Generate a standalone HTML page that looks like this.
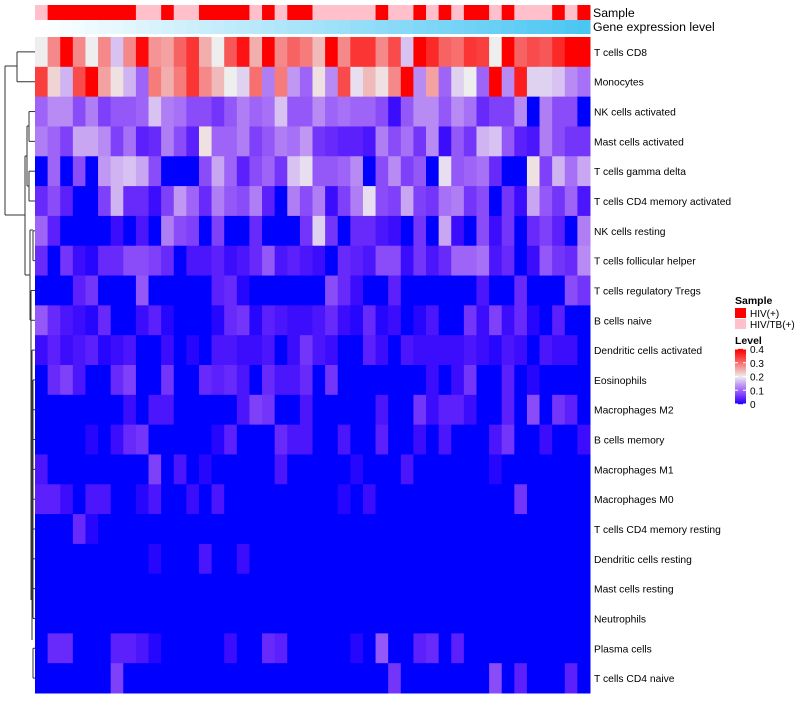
<!DOCTYPE html>
<html><head><meta charset="utf-8"><style>
body{margin:0;background:#fff;font-family:"Liberation Sans",sans-serif;}
svg text{font-family:"Liberation Sans",sans-serif;}
</style></head><body>
<svg id="chart" width="800" height="700" xmlns="http://www.w3.org/2000/svg">
<g id="dendro" stroke="#333" fill="none" stroke-width="1"></g>
<g id="anno"></g>
<g id="cells"></g>
<g id="labels" font-size="10.3" fill="#000"></g>
<text x="593" y="17" font-size="12.3">Sample</text>
<text x="593" y="31" font-size="12.3">Gene expression level</text>
<g>
<text x="735" y="304" font-size="10.5" font-weight="bold">Sample</text>
<rect x="735" y="308" width="11" height="10" fill="#ff0000"/>
<text x="750" y="317" font-size="10">HIV(+)</text>
<rect x="735" y="319" width="11" height="10" fill="#ffc0cb"/>
<text x="750" y="328" font-size="10">HIV/TB(+)</text>
<text x="735" y="344" font-size="10.5" font-weight="bold">Level</text>
<g id="cbar"></g>
</g>
</svg>
<script>
const rowNames=["T cells CD8","Monocytes","NK cells activated","Mast cells activated","T cells gamma delta","T cells CD4 memory activated","NK cells resting","T cells follicular helper","T cells regulatory  Tregs","B cells naive","Dendritic cells activated","Eosinophils","Macrophages M2","B cells memory","Macrophages M1","Macrophages M0","T cells CD4 memory resting","Dendritic cells resting","Mast cells resting","Neutrophils","Plasma cells","T cells CD4 naive"];
const sampleGroups="PRRRRRRRPPRPPRRRRPRPRRPPPPPRPPRPRPRRPRPPPRPR".split("");
const levelTicks=[0,0.1,0.2,0.3,0.4];
const rowsA=[
[.2,.28,.4,.28,.2,.28,.17,.28,.39,.27,.26,.31,.35,.25,.2,.32,.38,.25,.4,.28,.31,.29],
[.34,.22,.16,.33,.4,.26,.21,.16,.1,.29,.25,.29,.35,.28,.24,.2,.18,.3,.12,.29,.14,.1],
[.1,.13,.13,.08,.12,.07,.09,.09,.1,.17,.12,.11,.08,.08,.06,.09,.12,.1,.11,.17,.09,.09],
[.12,.1,.07,.15,.15,.13,.07,.11,.04,.05,.12,.08,.04,.21,.1,.1,.12,.07,.09,.12,.11,.14],
[0,.1,0,.08,0,.14,.16,.17,.15,.08,0,0,0,.08,.15,.1,.04,.08,.1,.06,.17,.19],
[.05,.08,.04,0,0,.07,.16,.05,.05,.02,.07,.14,.1,.05,.12,.09,.08,.12,.04,0,.12,.08],
[.1,.04,0,0,0,0,.02,0,.03,0,.12,.08,.07,0,.07,0,0,.05,0,0,0,.06],
[.05,0,.06,.02,.01,.05,.05,.08,.08,.07,.05,0,.03,.03,.04,.02,.03,.05,.09,.03,.04,.03],
[0,0,0,.04,.06,0,0,0,.09,0,0,0,0,0,.04,.05,.01,0,0,0,0,0],
[.09,.05,.03,.02,.01,.05,0,0,.02,.04,.01,0,0,0,.01,.05,.06,.01,.04,.03,.02,.02],
[.02,.04,.02,.03,.04,.01,.02,.03,0,0,.02,0,.01,0,.03,.03,.02,.02,.03,0,.02,.06],
[0,.05,.07,.03,0,0,.05,.07,0,0,.06,0,0,.05,.04,.05,.03,0,.05,.03,.03,.05],
[0,0,0,0,0,0,0,.02,0,.03,.03,0,0,0,0,0,.03,.07,.06,0,0,.03],
[0,0,0,0,.01,0,.02,.05,.06,0,0,0,0,0,.01,.04,0,0,0,.05,.03,.03],
[.03,0,0,0,0,0,0,0,0,.07,0,.03,0,.01,0,0,0,0,0,.03,0,0],
[.04,.04,.02,0,.03,.03,0,0,.01,.03,0,0,.02,0,.03,0,0,0,0,0,0,0],
[0,0,0,.05,.01,0,0,0,0,0,0,0,0,0,0,0,0,0,0,0,0,0],
[0,0,0,0,0,0,0,0,0,.01,0,0,0,.03,0,0,.02,0,0,0,0,0],
[0,0,0,0,0,0,0,0,0,0,0,0,0,0,0,0,0,0,0,0,0,0],
[0,0,0,0,0,0,0,0,0,0,0,0,0,0,0,0,0,0,0,0,0,0],
[0,.05,.05,0,0,0,.04,.04,.03,.01,0,0,0,0,0,.02,0,0,.05,.04,0,0],
[0,0,0,0,0,0,.07,0,0,0,0,0,0,0,0,0,0,0,0,0,0,0]];
const rowsB=[
[.24,.4,.28,.35,.35,.28,.33,.17,.4,.36,.31,.3,.35,.34,.2,.4,.31,.33,.32,.36,.4,.4],
[.21,.13,.33,.19,.24,.21,.28,.4,.13,.26,.1,.18,.2,.1,.4,.13,.37,.18,.18,.17,.13,.11],
[.13,.1,.11,.1,.1,.08,.02,.09,.13,.13,.09,.13,.11,.05,.07,.07,.13,0,.12,.08,.08,0],
[.06,.05,.04,.04,.03,.12,.08,.11,.06,.13,.02,.09,.06,.16,.17,.09,.04,.03,.12,.08,.06,.06],
[.09,.09,.1,.13,0,.08,.13,.07,.09,0,.19,.09,.1,.11,.05,0,0,.21,.07,.16,.11,.15],
[.12,.02,.07,.12,.19,.08,.07,.15,.07,.06,.11,.12,.06,.08,0,.06,.02,.15,.09,.06,.1,.03],
[.18,.06,0,.05,.05,.03,.02,0,.06,0,.15,.02,0,.08,.02,.06,0,.05,.07,.04,0,.12],
[.02,0,.05,.04,.03,.08,.08,.02,.06,.03,.05,.1,.1,.11,.03,.05,0,.02,.09,.06,.05,.13],
[0,.08,.05,.02,0,0,.04,0,0,0,0,0,0,.03,0,0,.05,0,0,0,.08,.06],
[.03,.05,.02,.01,.05,.01,.02,0,.01,.03,0,0,.06,.02,.07,.02,.05,.01,0,.04,0,0],
[.03,.02,0,0,.04,.02,0,.03,.02,.02,.02,.02,.03,.02,.01,.03,.02,0,.03,.02,.02,0],
[0,.06,0,0,0,0,0,0,0,.02,0,.02,.06,0,0,.04,0,.01,0,0,0,0],
[0,0,0,0,0,.03,0,0,.06,.02,.04,.04,.02,0,0,.04,0,.08,0,.06,.04,0],
[0,0,.03,0,0,.04,0,0,.02,0,.03,0,0,0,.03,.06,0,0,.02,0,0,.02],
[0,0,0,.01,0,0,0,.03,0,0,0,0,0,0,.01,0,0,0,0,0,0,0],
[0,0,.01,0,.02,0,0,0,0,0,0,0,0,0,0,0,.06,0,0,0,0,0],
[0,0,0,0,0,0,0,0,0,0,0,0,0,0,0,0,0,0,0,0,0,0],
[0,0,0,0,0,0,0,0,0,0,0,0,0,0,0,0,0,0,0,0,0,0],
[0,0,0,0,0,0,0,0,0,0,0,0,0,0,0,0,0,0,0,0,0,0],
[0,0,0,0,0,0,0,0,0,0,0,0,0,0,0,0,0,0,0,0,0,0],
[0,0,0,.01,0,.09,0,0,.04,.05,0,.04,0,0,0,0,0,0,0,0,0,0],
[0,0,0,0,0,0,.06,0,0,0,0,0,0,0,.08,0,.04,0,0,0,.04,0]];

const NS="http://www.w3.org/2000/svg";
const x0=35,x1=590,y0=37,y1=693;
const nCol=sampleGroups.length,nRow=rowNames.length;
const cw=(x1-x0)/nCol,ch=(y1-y0)/nRow;
const xPos=c=>x0+c*cw, yPos=r=>y0+r*ch;
function color(v){
  let t=Math.max(0,Math.min(1,v/0.4));
  let r,g,b;
  if(t<=0.5){const u=t/0.5;r=238*Math.pow(u,0.6);g=238*Math.pow(u,1.25);b=255-17*u;}
  else{const u=(t-0.5)/0.5;r=238+17*u;g=238*Math.pow(1-u,1.1);b=238*Math.pow(1-u,1.1);}
  return `rgb(${Math.round(r)},${Math.round(g)},${Math.round(b)})`;
}
function mk(tag,attrs,parent){const e=document.createElementNS(NS,tag);for(const k in attrs)e.setAttribute(k,attrs[k]);parent.appendChild(e);return e;}
const cells=document.getElementById('cells');
for(let r=0;r<nRow;r++){
  const vals=rowsA[r].concat(rowsB[r]);
  for(let c=0;c<nCol;c++){
    const e=mk('rect',{x:xPos(c),y:yPos(r),width:cw+0.5,height:ch+0.5,fill:color(vals[c])},cells);
    
    
  }
}
const anno=document.getElementById('anno');
for(let c=0;c<nCol;c++){
  const s=mk('rect',{x:xPos(c),y:5,width:cw+0.5,height:15,fill:sampleGroups[c]==='R'?'#ff0000':'#ffc0cb'},anno);
  
  
  const t=c/(nCol-1);
  const g=mk('rect',{x:xPos(c),y:20,width:cw+0.5,height:14,fill:`rgb(${Math.round(255-180*t)},${Math.round(255-57*t)},${Math.round(255-12*t)})`},anno);
  
  
}
const labels=document.getElementById('labels');
rowNames.forEach((n,r)=>{
  const t=mk('text',{x:594,y:yPos(r)+ch/2+4},labels);t.textContent=n;
  
  
});
const d=document.getElementById('dendro');
const cy=r=>yPos(r)+ch/2;
const segs=[
 [5,66,5,215],[5,66,17,66],[17,cy(0),17,cy(1)],[17,cy(0),35,cy(0)],[17,cy(1),35,cy(1)],
 [5,215,25,215],[25,156,25,275],[25,156,27,156],[27,126,27,186],[27,126,29,126],[29,cy(2),29,cy(3)],[29,cy(2),35,cy(2)],[29,cy(3),35,cy(3)],
 [27,186,29,186],[29,cy(4),29,cy(5)],[29,cy(4),35,cy(4)],[29,cy(5),35,cy(5)],
 [25,275,30,275],[30,230,30,320],[30,230,33,230],[33,cy(6),33,cy(7)],[33,cy(6),35,cy(6)],[33,cy(7),35,cy(7)],
 [30,320,31,320],[31,cy(8),31,600],[31,cy(8),35,cy(8)],[31,cy(9),35,cy(9)],[32,cy(10),32,640],[32,cy(10),35,cy(10)],
 [33,cy(11),33,cy(19)],[33,cy(20),33,cy(21)],[33,cy(20),35,cy(20)],[33,cy(21),35,cy(21)]
];
for(let r=11;r<20;r++)segs.push([33,cy(r),35,cy(r)]);
segs.forEach(s=>{const l=mk('line',{x1:s[0],y1:s[1],x2:s[2],y2:s[3]},d);
  
  });
const cb=document.getElementById('cbar');
const cbTop=349,cbBot=404;
const lv=v=>cbBot-(v/0.4)*(cbBot-cbTop);
for(let i=0;i<56;i++){
  const v=0.4*(i+0.5)/56;
  mk('rect',{x:735,y:lv(v)-0.6,width:11,height:1.3,fill:color(v)},cb);
}
levelTicks.forEach(v=>{
  mk('line',{x1:735,y1:lv(v),x2:738,y2:lv(v),stroke:'#fff'},cb);
  mk('line',{x1:743,y1:lv(v),x2:746,y2:lv(v),stroke:'#fff'},cb);
  const t=mk('text',{x:750,y:lv(v)+4,'font-size':10},cb);t.textContent=String(v);
  
  
});
</script>
</body></html>
